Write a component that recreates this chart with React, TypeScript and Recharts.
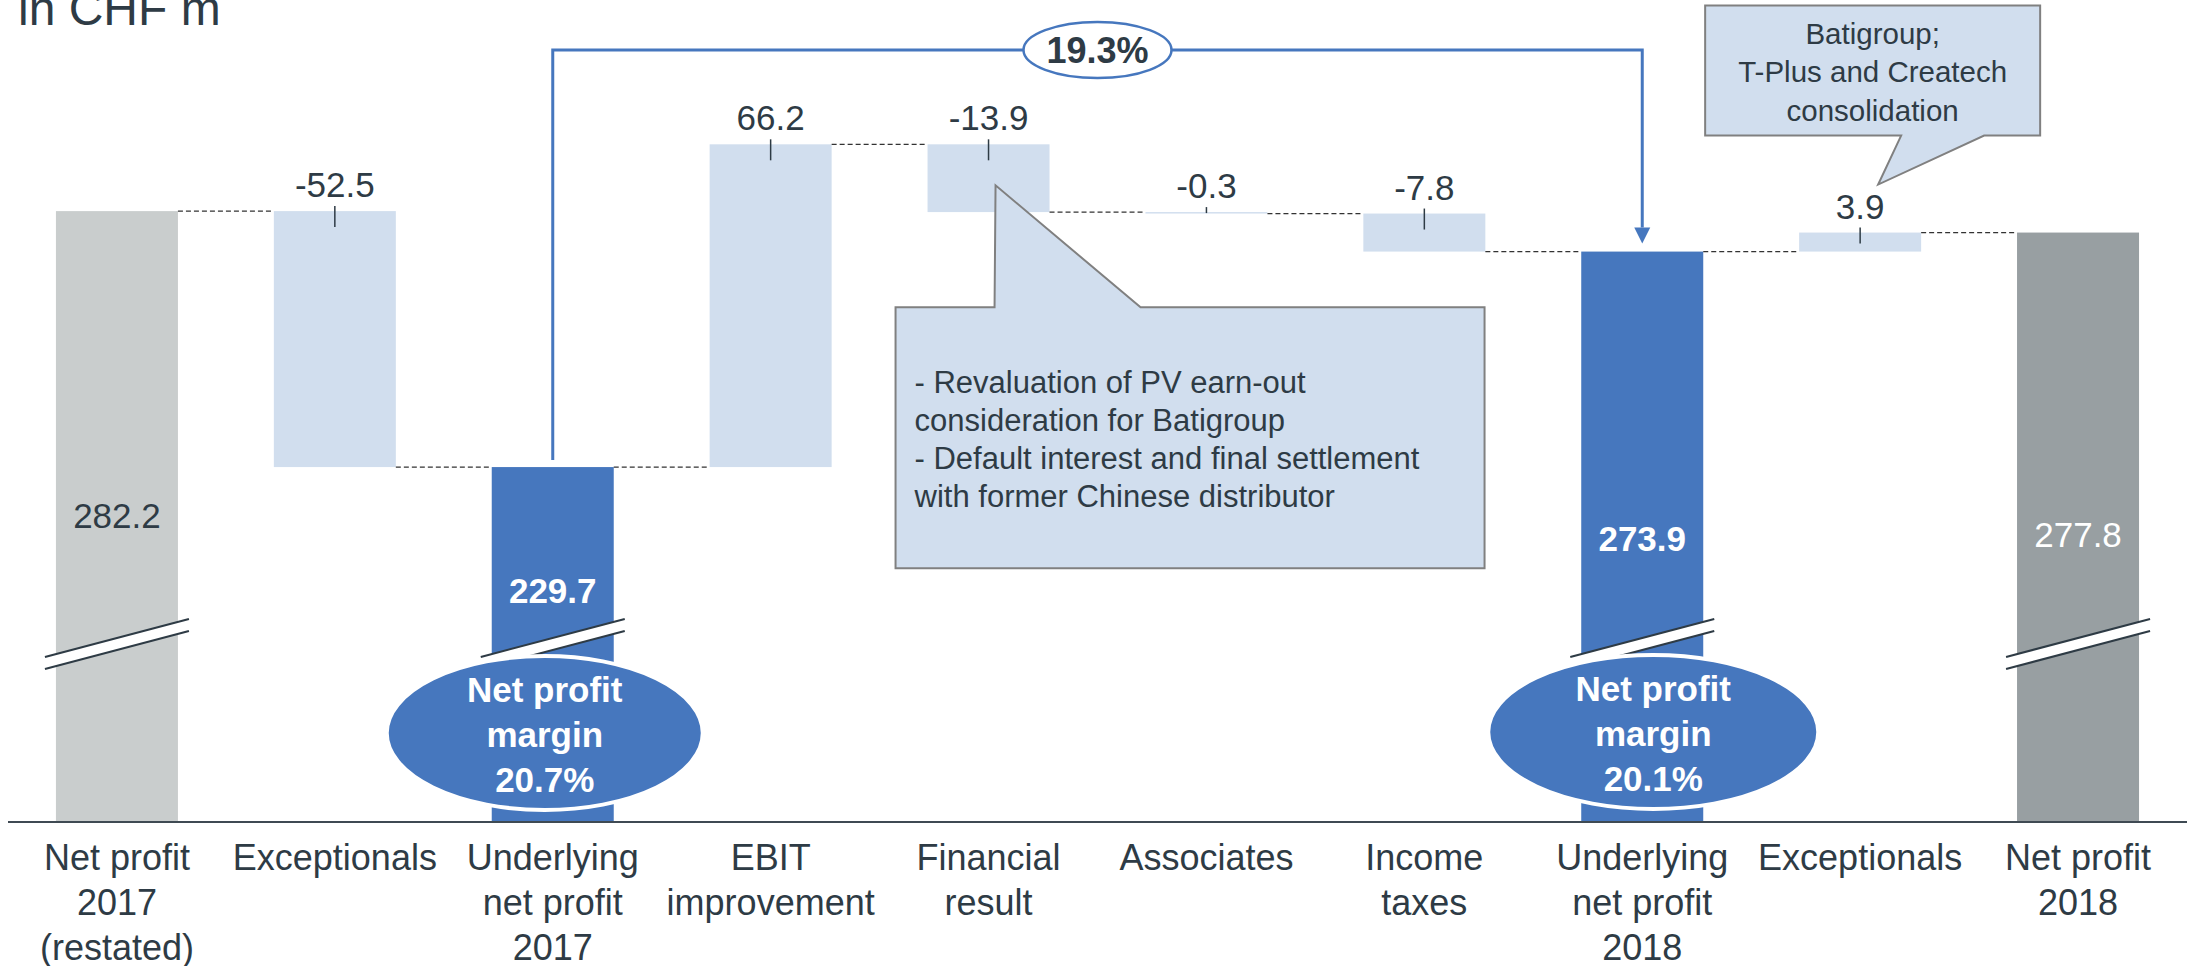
import React from 'react';
import { ComposedChart, Bar, XAxis, YAxis, LabelList, ReferenceDot, ReferenceLine } from 'recharts';

// ---------- data ----------
const categories = [
  'Net profit\n2017\n(restated)',
  'Exceptionals',
  'Underlying\nnet profit\n2017',
  'EBIT\nimprovement',
  'Financial\nresult',
  'Associates',
  'Income\ntaxes',
  'Underlying\nnet profit\n2018',
  'Exceptionals',
  'Net profit\n2018',
];
const values = [282.2, -52.5, 229.7, 66.2, -13.9, -0.3, -7.8, 273.9, 3.9, 277.8];
const kinds = ['start', 'delta', 'sub', 'delta', 'delta', 'delta', 'delta', 'sub', 'delta', 'end'];
const valueLabels = ['282.2', '-52.5', '229.7', '66.2', '-13.9', '-0.3', '-7.8', '273.9', '3.9', '277.8'];
const marginNotes = [
  { idx: 2, lines: ['Net profit', 'margin', '20.7%'] },
  { idx: 7, lines: ['Net profit', 'margin', '20.1%'] },
];
const growthLabel = '19.3%';
const growthFrom = 2;
const growthTo = 7;
const note1Lines = [
  '- Revaluation of PV earn-out',
  'consideration for Batigroup',
  '- Default interest and final settlement',
  'with former Chinese distributor',
];
const note2Lines = ['Batigroup;', 'T-Plus and Createch', 'consolidation'];
const title = 'in CHF m';

// broken axis domain (visible value range)
const Y_MIN = 156.9;
const Y_MAX = 325.5;

// ---------- styles ----------
const FONT = '"Liberation Sans", Arial, Helvetica, sans-serif';
const TEXT = '#2E3B45';
const KIND_COLORS: Record<string, string> = {
  start: '#C9CDCD',
  delta: '#D1DEEE',
  sub: '#4677BE',
  end: '#989FA2',
};
const BLUE = '#4677BE';
const CALLOUT_FILL = '#D1DEEE';
const CALLOUT_STROKE = '#808080';
const GAP = 0.22;
const TOTAL_LABEL_STYLE: Record<number, { dy: number; color: string; weight: string }> = {
  0: { dy: 317, color: TEXT, weight: 'normal' },
  2: { dy: 136, color: '#FFFFFF', weight: 'bold' },
  7: { dy: 299, color: '#FFFFFF', weight: 'bold' },
  9: { dy: 314, color: '#FFFFFF', weight: 'normal' },
};
const ELLIPSE_STYLE: Record<number, { dx: number; dy: number; rx: number; ry: number }> = {
  2: { dx: -8, dy: -89, rx: 158, ry: 77 },
  7: { dx: 11, dy: -90, rx: 165, ry: 77 },
};

// ---------- build table ----------
let level = 0;
const data = values.map((v, i) => {
  const kind = kinds[i];
  let low: number;
  let high: number;
  if (kind === 'delta') {
    const next = level + v;
    low = Math.min(level, next);
    high = Math.max(level, next);
    level = next;
  } else {
    low = Y_MIN;
    high = v;
    level = v;
  }
  return { idx: i, range: [low, high], value: v, kind, label: valueLabels[i] };
});

// ---------- custom renderers ----------
const BarShape = (props: any) => {
  const { x, y, width, height, payload } = props;
  const i = payload.idx;
  const kind = payload.kind;
  const band = width / (1 - 2 * GAP);
  const gapPx = band - width;
  const endY = kind === 'delta' && payload.value < 0 ? y + height : y;
  const bottom = y + height;
  const els: any[] = [
    <rect key="r" x={x} y={y} width={width} height={Math.max(height, 1)} fill={KIND_COLORS[kind]} />,
  ];
  if (i < data.length - 1) {
    els.push(
      <line key="c" x1={x + width} x2={x + width + gapPx} y1={endY} y2={endY}
        stroke="#333" strokeWidth={1.3} strokeDasharray="5 3" />
    );
  }
  if (kind !== 'delta') {
    const xl = x - 11;
    const xr = x + width + 11;
    els.push(
      <g key="b">
        <polygon points={`${xl},${bottom - 165} ${xr},${bottom - 203} ${xr},${bottom - 191} ${xl},${bottom - 153}`} fill="#fff" />
        <line x1={xl} y1={bottom - 165} x2={xr} y2={bottom - 203} stroke={TEXT} strokeWidth={2} />
        <line x1={xl} y1={bottom - 153} x2={xr} y2={bottom - 191} stroke={TEXT} strokeWidth={2} />
      </g>
    );
  }
  return <g>{els}</g>;
};

const ValueLabel = (props: any) => {
  const { x, y, width, height, value } = props;
  const i = value as number;
  const d = data[i];
  const cx = x + width / 2;
  if (d.kind === 'delta') {
    const bottom = y + height;
    const t1 = Math.max(y + 1, Math.min(y + 16, bottom - 8));
    return (
      <g>
        <text x={cx} y={y - 14} textAnchor="middle" fontSize={35} fontFamily={FONT} fill={TEXT}>{d.label}</text>
        <line x1={cx} x2={cx} y1={y - 5} y2={t1} stroke={TEXT} strokeWidth={1.5} />
      </g>
    );
  }
  const st = TOTAL_LABEL_STYLE[i];
  return (
    <text x={cx} y={y + st.dy} textAnchor="middle" fontSize={35} fontFamily={FONT} fill={st.color} fontWeight={st.weight}>
      {d.label}
    </text>
  );
};

const CategoryTick = (props: any) => {
  const { x, y, payload } = props;
  const lines = categories[payload.value].split('\n');
  return (
    <text textAnchor="middle" fontSize={36} fontFamily={FONT} fill={TEXT}>
      {lines.map((l, k) => (
        <tspan key={k} x={x} y={y + 48 + k * 45}>{l}</tspan>
      ))}
    </text>
  );
};

const makeEllipse = (idx: number, lines: string[]) => (props: any) => {
  const { cx, cy } = props;
  const s = ELLIPSE_STYLE[idx];
  const ex = cx + s.dx;
  const ey = cy + s.dy;
  return (
    <g>
      <ellipse cx={ex} cy={ey} rx={s.rx} ry={s.ry} fill={BLUE} stroke="#fff" strokeWidth={4} />
      <text textAnchor="middle" fontSize={35} fontWeight="bold" fontFamily={FONT} fill="#fff">
        {lines.map((l, k) => (
          <tspan key={k} x={ex} y={ey - 31 + k * 45}>{l}</tspan>
        ))}
      </text>
    </g>
  );
};

const GrowthBracket = (props: any) => {
  const { x1, y1, x2, y2 } = props;
  const topY = 50;
  const tipY = y2 - 8;
  const headH = 16;
  const mid = (x1 + x2) / 2;
  return (
    <g>
      <path d={`M${x1},${y1 - 7} V${topY} H${x2} V${tipY - headH}`} fill="none" stroke={BLUE} strokeWidth={3} />
      <polygon points={`${x2 - 8},${tipY - headH} ${x2 + 8},${tipY - headH} ${x2},${tipY}`} fill={BLUE} />
      <ellipse cx={mid} cy={topY} rx={74} ry={28} fill="#fff" stroke={BLUE} strokeWidth={2.5} />
      <text x={mid} y={topY + 13} textAnchor="middle" fontSize={36} fontWeight="bold" fontFamily={FONT} fill={TEXT}>
        {growthLabel}
      </text>
    </g>
  );
};

const Note1 = (props: any) => {
  const { cx, cy } = props;
  const L = cx - 93, R = cx + 496, T = cy + 163, B = cy + 424;
  const p1 = cx + 6, p2 = cx + 152;
  const tipX = cx + 7, tipY = cy + 41;
  const path = `M${L},${T} H${p1} L${tipX},${tipY} L${p2},${T} H${R} V${B} H${L} Z`;
  return (
    <g>
      <path d={path} fill={CALLOUT_FILL} stroke={CALLOUT_STROKE} strokeWidth={2} />
      <text fontSize={31} fontFamily={FONT} fill={TEXT}>
        {note1Lines.map((l, k) => (
          <tspan key={k} x={L + 19} y={T + 86 + k * 38}>{l}</tspan>
        ))}
      </text>
    </g>
  );
};

const Note2 = (props: any) => {
  const { cx, cy } = props;
  const L = cx - 155, R = cx + 180, T = cy - 227, B = cy - 97;
  const p1 = cx + 41, p2 = cx + 124;
  const tipX = cx + 18, tipY = cy - 48;
  const path = `M${L},${T} H${R} V${B} H${p2} L${tipX},${tipY} L${p1},${B} H${L} Z`;
  const tx = (L + R) / 2;
  return (
    <g>
      <path d={path} fill={CALLOUT_FILL} stroke={CALLOUT_STROKE} strokeWidth={2} />
      <text textAnchor="middle" fontSize={29.5} fontFamily={FONT} fill={TEXT}>
        {note2Lines.map((l, k) => (
          <tspan key={k} x={tx} y={T + 38 + k * 38.5}>{l}</tspan>
        ))}
      </text>
    </g>
  );
};

export default function App() {
  return (
    <div style={{ position: 'absolute', left: 0, top: 0, width: 2187, height: 966, background: '#fff', overflow: 'hidden' }}>
      <ComposedChart
        width={2187}
        height={966}
        data={data}
        margin={{ top: 0, right: 0, bottom: 0, left: 8 }}
        barCategoryGap={`${GAP * 100}%`}
      >
        <XAxis
          dataKey="idx"
          type="category"
          interval={0}
          height={144}
          tickLine={false}
          tickSize={0}
          tickMargin={0}
          axisLine={{ stroke: '#3F4A53', strokeWidth: 2 }}
          tick={<CategoryTick />}
        />
        <YAxis hide domain={[Y_MIN, Y_MAX]} allowDataOverflow type="number" />
        <Bar dataKey="range" isAnimationActive={false} shape={BarShape}>
          <LabelList dataKey="idx" content={ValueLabel} />
        </Bar>
        {marginNotes.map((m) => (
          <ReferenceDot key={m.idx} x={m.idx} y={Y_MIN} ifOverflow="visible" shape={makeEllipse(m.idx, m.lines)} zIndex={1500} />
        ))}
        <ReferenceLine
          segment={[{ x: growthFrom, y: values[growthFrom] }, { x: growthTo, y: values[growthTo] }]}
          ifOverflow="visible"
          shape={GrowthBracket}
          zIndex={1500}
        />
        <ReferenceDot x={4} y={values[0] + values[1] + values[3]} ifOverflow="visible" shape={Note1} zIndex={1500} />
        <ReferenceDot x={8} y={values[9]} ifOverflow="visible" shape={Note2} zIndex={1500} />
      </ComposedChart>
      <svg width={600} height={60} style={{ position: 'absolute', left: 0, top: 0 }}>
        <text x={18} y={25} fontSize={48} fontFamily={FONT} fill={TEXT}>{title}</text>
      </svg>
    </div>
  );
}
